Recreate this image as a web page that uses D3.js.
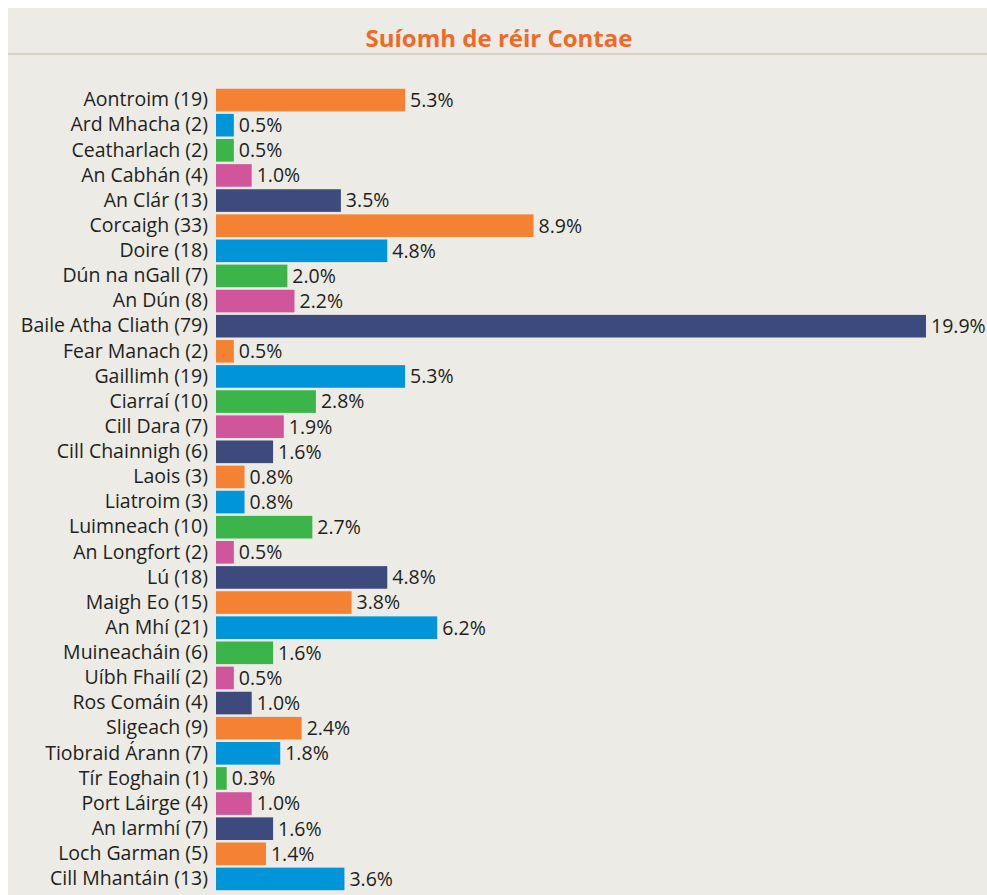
<!DOCTYPE html>
<html>
<head>
<meta charset="utf-8">
<script src="https://cdn.jsdelivr.net/npm/d3@7"></script>
<style>
  body { margin: 0; background: #fff; }
  svg { display: block; }
</style>
</head>
<body>
<svg id="chart" width="987" height="895"></svg>
<script>
// counties, counts and share of total (%)
const counties = ["Aontroim", "Ard Mhacha", "Ceatharlach", "An Cabhán", "An Clár", "Corcaigh", "Doire",
  "Dún na nGall", "An Dún", "Baile Atha Cliath", "Fear Manach", "Gaillimh", "Ciarraí", "Cill Dara",
  "Cill Chainnigh", "Laois", "Liatroim", "Luimneach", "An Longfort", "Lú", "Maigh Eo", "An Mhí",
  "Muineacháin", "Uíbh Fhailí", "Ros Comáin", "Sligeach", "Tiobraid Árann", "Tír Eoghain",
  "Port Láirge", "An Iarmhí", "Loch Garman", "Cill Mhantáin"];
const counts = [19, 2, 2, 4, 13, 33, 18, 7, 8, 79, 2, 19, 10, 7, 6, 3, 3, 10, 2, 18, 15, 21, 6, 2, 4, 9, 7, 1, 4, 7, 5, 13];
const pcts = [5.3, 0.5, 0.5, 1.0, 3.5, 8.9, 4.8, 2.0, 2.2, 19.9, 0.5, 5.3, 2.8, 1.9, 1.6, 0.8, 0.8, 2.7, 0.5,
  4.8, 3.8, 6.2, 1.6, 0.5, 1.0, 2.4, 1.8, 0.3, 1.0, 1.6, 1.4, 3.6];
const palette = ["#f58233", "#0095d9", "#3bb44a", "#d0559b", "#3d4a7e"];

const width = 987, height = 895;
const svg = d3.select("#chart");

// panel
svg.append("rect").attr("x", 8).attr("y", 8).attr("width", width - 8).attr("height", height - 8)
  .attr("fill", "#ecebe6");
svg.append("line").attr("x1", 8).attr("x2", width).attr("y1", 54).attr("y2", 54)
  .attr("stroke", "#d8d2c4").attr("stroke-width", 2);
svg.append("text").attr("x", 499).attr("y", 47).attr("text-anchor", "middle")
  .style("font-family", "'Open Sans', sans-serif").style("font-weight", "bold")
  .style("font-size", "24px").attr("fill", "#f06a25")
  .text("Suíomh de réir Contae");

const data = counties.map((c, i) => ({ name: `${c} (${counts[i]})`, pct: pcts[i] }));

const x0 = 216;
const x = d3.scaleLinear().domain([0, 19.9]).range([x0, 926]);
const y = d3.scaleBand().domain(data.map(d => d.name)).range([87.5, 891.5]).paddingInner(0.1).paddingOuter(0.05);

const g = svg.append("g");

g.append("g").attr("transform", `translate(${x0 - 8},0)`)
  .call(d3.axisLeft(y).tickSize(0).tickPadding(0))
  .call(a => a.select(".domain").remove())
  .selectAll("text")
  .style("font-family", "'Open Sans', sans-serif").style("font-size", "19.5px").attr("fill", "#231f20");

g.selectAll("rect.bar").data(data).join("rect").attr("class", "bar")
  .attr("x", x(0)).attr("y", d => y(d.name))
  .attr("width", d => x(d.pct) - x(0)).attr("height", y.bandwidth())
  .attr("fill", (d, i) => palette[i % palette.length]);

g.selectAll("text.val").data(data).join("text").attr("class", "val")
  .attr("x", d => x(d.pct) + 5).attr("y", d => y(d.name) + y.bandwidth() / 2).attr("dy", "0.35em")
  .style("font-family", "'Open Sans', sans-serif").style("font-size", "19.5px").attr("fill", "#231f20")
  .text(d => d.pct.toFixed(1) + "%");
</script>
</body>
</html>
